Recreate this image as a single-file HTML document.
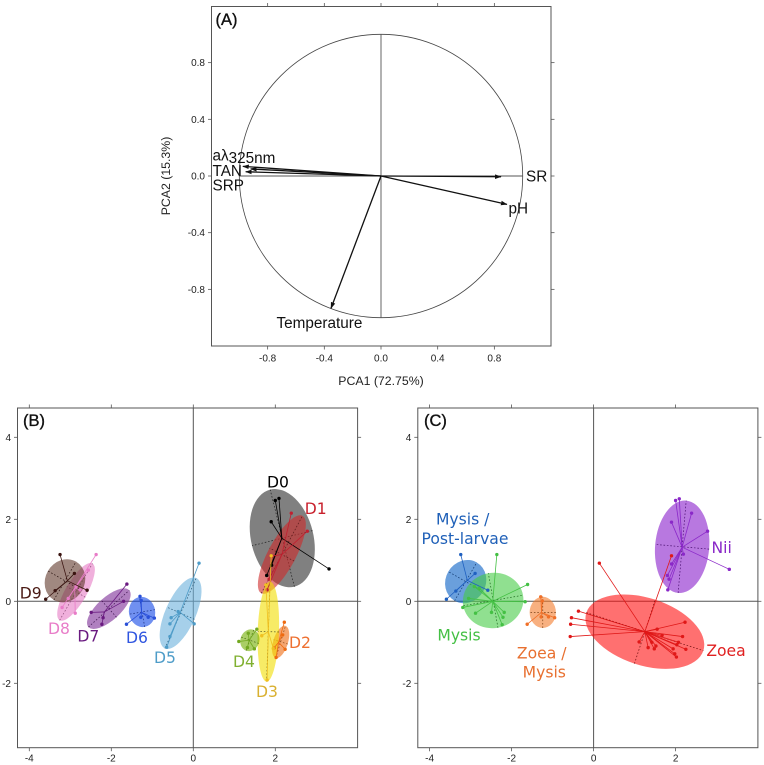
<!DOCTYPE html>
<html>
<head>
<meta charset="utf-8">
<title>PCA panels</title>
<style>
html,body{margin:0;padding:0;background:#fff;}
svg{display:block;filter:blur(0.3px);}
.sans{font-family:"Liberation Sans",sans-serif;}
.dv{font-family:"DejaVu Sans",sans-serif;font-size:15.6px;text-anchor:middle;}
.tick{font-family:"Liberation Sans",sans-serif;font-size:10px;fill:#222;}
.var{font-family:"Liberation Sans",sans-serif;font-size:15.3px;fill:#111;}
.ptitle{font-family:"Liberation Sans",sans-serif;font-size:16.5px;fill:#111;stroke:#111;stroke-width:.35;}
</style>
</head>
<body>
<svg id="chart" xmlns="http://www.w3.org/2000/svg" width="764" height="765" viewBox="0 0 764 765">
  <defs>
    <marker id="arrowhead" markerWidth="7" markerHeight="6" refX="6" refY="2.5" orient="auto" markerUnits="userSpaceOnUse">
      <path d="M0,0.2 L6.5,2.5 L0,4.8 Z" fill="#111"></path>
    </marker>
  </defs>
  <rect x="0" y="0" width="764" height="765" fill="#fff"></rect>
  <g id="panelA"></g>
  <g id="panelB"></g>
  <g id="panelC"></g>

  <text class="ptitle" x="215.5" y="25">(A)</text>
  <text class="ptitle" x="23" y="426">(B)</text>
  <text class="ptitle" x="424" y="426">(C)</text>

  <text class="sans" x="381" y="385" font-size="12.3" fill="#222" text-anchor="middle">PCA1 (72.75%)</text>
  <text class="sans" transform="translate(170,176) rotate(-90)" font-size="12.3" fill="#222" text-anchor="middle">PCA2 (15.3%)</text>

  <text class="var" x="212.5" y="160.5">aλ<tspan dy="2.5">325nm</tspan></text>
  <text class="var" x="212.5" y="176">TAN</text>
  <text class="var" x="212.5" y="190.7">SRP</text>
  <text class="var" x="526" y="181.7">SR</text>
  <text class="var" x="508.5" y="213.3">pH</text>
  <text class="var" x="276.5" y="328">Temperature</text>

  <text class="dv" x="278" y="487.5" fill="#000">D0</text>
  <text class="dv" x="315.7" y="514" fill="#c8202c">D1</text>
  <text class="dv" x="300" y="648" fill="#ee7030">D2</text>
  <text class="dv" x="267" y="697" fill="#d9b030">D3</text>
  <text class="dv" x="244" y="667" fill="#80b030">D4</text>
  <text class="dv" x="165" y="663" fill="#4e9cc8">D5</text>
  <text class="dv" x="137" y="643" fill="#2f55e0">D6</text>
  <text class="dv" x="88.3" y="641.5" fill="#6a1a80">D7</text>
  <text class="dv" x="59" y="634" fill="#e87cc8">D8</text>
  <text class="dv" x="30.7" y="598.5" fill="#4a1a14">D9</text>

  <text class="dv" x="462.7" y="524.5" fill="#1f60b8">Mysis /</text>
  <text class="dv" x="465" y="544" fill="#1f60b8">Post-larvae</text>
  <text class="dv" x="459" y="640.5" fill="#44c044">Mysis</text>
  <text class="dv" x="541.7" y="658.5" fill="#e87030">Zoea /</text>
  <text class="dv" x="544.3" y="677.5" fill="#e87030">Mysis</text>
  <text class="dv" x="726" y="656" fill="#e02020">Zoea</text>
  <text class="dv" x="721.7" y="553" fill="#8a28c8">Nii</text>
</svg>

<script>
// Panel A: correlation circle
const loadingNames = ['a325nm', 'TAN', 'SRP', 'SR', 'pH', 'Temperature'];
const loadingsPC1 = [-0.975, -0.92, -0.955, 0.847, 0.889, -0.353];
const loadingsPC2 = [0.068, 0.05, 0.03, -0.005, -0.2, -0.934];
const circleTicks = [-0.8, -0.4, 0, 0.4, 0.8];

// Panels B and C: shared tick values
const scoreXTicks = [-4, -2, 0, 2];
const scoreYTicks = [-2, 0, 2, 4];

// Panel B centroids
const d0Centroid = [2.16, 1.54];
const d1Centroid = [2.16, 1.14];
const d2Centroid = [2.08, -1.00];
const d3Centroid = [1.83, -0.74];
const d4Centroid = [1.36, -0.95];
const d5Centroid = [-0.32, -0.27];
const d6Centroid = [-1.26, -0.27];
const d7Centroid = [-2.17, -0.26];
const d8Centroid = [-2.89, 0.32];
const d9Centroid = [-3.07, 0.50];

// Panel B samples
const d0Scores = [[2.00,2.46],[2.09,2.51],[1.90,1.94],[3.31,0.79],[1.91,0.88],[1.79,0.63]];
const d1Scores = [[2.39,2.15],[2.78,1.71],[1.85,0.54],[1.80,0.28],[1.90,1.10]];
const d2Scores = [[2.22,-0.51],[2.24,-1.17],[2.02,-1.37],[2.18,-0.82],[1.97,-1.14]];
const d3Scores = [[1.90,1.11],[1.80,-1.92],[1.67,-0.84],[1.95,-1.15],[1.77,0.40]];
const d4Scores = [[1.55,-0.68],[1.11,-0.98],[1.32,-1.13],[1.49,-1.16],[1.34,-0.78]];
const d5Scores = [[0.14,0.93],[0.02,-0.55],[-0.57,-0.86],[-0.57,-0.55],[-0.54,-0.40],[-0.37,-0.25],[-0.65,-1.12]];
const d6Scores = [[-1.30,0.12],[-1.27,0.02],[-0.95,-0.41],[-1.10,-0.39],[-1.28,-0.39],[-1.63,-0.56]];
const d7Scores = [[-1.62,0.42],[-1.70,0],[-2.49,-0.27],[-2.23,-0.56],[-2.20,-0.40]];
const d8Scores = [[-2.37,1.14],[-2.88,-0.29],[-3.20,-0.15],[-3.05,0.07],[-2.86,0.36],[-2.76,0.28],[-2.56,0.76]];
const d9Scores = [[-3.25,1.14],[-2.90,0.68],[-2.59,0.27],[-3.37,0.26],[-3.60,0.05]];

// Panel B inertia ellipses: centre x, centre y, major, minor, angle
const d0Ellipse = [2.17, 1.54, 1.22, 0.76, 104];
const d1Ellipse = [2.16, 1.14, 1.07, 0.34, 62];
const d2Ellipse = [2.13, -0.99, 0.41, 0.18, 73];
const d3Ellipse = [1.83, -0.74, 1.22, 0.26, 88];
const d4Ellipse = [1.38, -0.95, 0.27, 0.23, 70];
const d5Ellipse = [-0.31, -0.29, 0.94, 0.37, 66];
const d6Ellipse = [-1.25, -0.26, 0.37, 0.32, 100];
const d7Ellipse = [-2.06, -0.18, 0.67, 0.28, 42];
const d8Ellipse = [-2.86, 0.23, 0.80, 0.26, 60];
const d9Ellipse = [-3.13, 0.50, 0.54, 0.48, 60];

// Panel C centroids
const mysisPlCentroid = [-3.08, 0.51];
const mysisCentroid = [-2.46, 0];
const zoeaMysisCentroid = [-1.27, -0.27];
const niiCentroid = [2.16, 1.32];
const zoeaCentroid = [1.25, -0.74];

// Panel C samples
const mysisPlScores = [[-3.24,1.14],[-2.89,0.68],[-2.58,0.27],[-3.36,0.25],[-3.59,0.05]];
const mysisScores = [[-2.36,1.14],[-1.61,0.41],[-1.67,-0.01],[-2.18,-0.27],[-2.21,-0.39],[-2.23,-0.57],[-2.49,-0.27],[-2.88,-0.29],[-3.19,-0.15],[-3.05,0.07],[-2.79,0.32],[-2.91,0.36]];
const zoeaMysisScores = [[-1.29,0.11],[-1.25,0.01],[-0.95,-0.40],[-1.10,-0.38],[-1.28,-0.38],[-1.62,-0.56]];
const niiScores = [[2.00,2.46],[2.09,2.50],[2.39,2.15],[1.90,1.93],[2.78,1.71],[3.31,0.78],[2.19,1.15],[1.90,0.91],[1.80,0.63],[1.84,0.54],[1.81,0.28]];
const zoeaScores = [[0.14,0.93],[1.90,1.11],[-0.37,-0.24],[-0.54,-0.40],[-0.56,-0.56],[-0.57,-0.86],[2.23,-0.51],[1.55,-0.68],[2.17,-0.86],[1.67,-0.83],[2.07,-1.00],[2.03,-1.06],[2.25,-1.17],[1.94,-1.16],[1.98,-1.28],[2.02,-1.36],[1.11,-0.99],[1.33,-1.13],[1.42,-1.00],[1.52,-1.09],[1.48,-1.16]];

// Panel C inertia ellipses
const mysisPlEllipse = [-3.12, 0.48, 0.54, 0.49, 60];
const mysisEllipse = [-2.45, 0.02, 0.74, 0.675, 10];
const zoeaMysisEllipse = [-1.24, -0.27, 0.38, 0.32, 90];
const niiEllipse = [2.16, 1.33, 1.13, 0.66, 85];
const zoeaEllipse = [1.25, -0.74, 1.50, 0.82, -18];

const SVGNS = 'http://www.w3.org/2000/svg';

function make(parent, tag, attrs) {
  const el = document.createElementNS(SVGNS, tag);
  for (const k in attrs) el.setAttribute(k, attrs[k]);
  parent.appendChild(el);
  return el;
}

function drawFrame(g, name, box, sx, sy, xTicks, yTicks, fmt, yLabelX, xLabelY) {
  const frame = make(g, 'rect', {x: box.l, y: box.t, width: box.r - box.l, height: box.b - box.t, fill: 'none', stroke: '#555', 'stroke-width': 1});
  
  
  xTicks.forEach(function (v) {
    const bottomTick = make(g, 'line', {x1: sx(v), x2: sx(v), y1: box.b, y2: box.b + 3.5, stroke: '#555', 'stroke-width': 0.8});
    
    
    const topTick = make(g, 'line', {x1: sx(v), x2: sx(v), y1: box.t, y2: box.t - 3.5, stroke: '#555', 'stroke-width': 0.8});
    
    
    const label = make(g, 'text', {x: sx(v), y: xLabelY, 'text-anchor': 'middle', class: 'tick'});
    label.textContent = fmt(v);
    
    
  });
  yTicks.forEach(function (v) {
    const leftTick = make(g, 'line', {x1: box.l, x2: box.l - 3.5, y1: sy(v), y2: sy(v), stroke: '#555', 'stroke-width': 0.8});
    
    
    const rightTick = make(g, 'line', {x1: box.r, x2: box.r + 3.5, y1: sy(v), y2: sy(v), stroke: '#555', 'stroke-width': 0.8});
    
    
    const label = make(g, 'text', {x: yLabelX, y: sy(v) + 3.5, 'text-anchor': 'end', class: 'tick'});
    label.textContent = fmt(v);
    
    
  });
}

// ---- Panel A ----
(function () {
  const g = document.getElementById('panelA');
  const box = {l: 211.5, r: 551, t: 6.5, b: 346};
  const unit = 141.7;
  const sx = function (v) { return 381 + v * unit; };
  const sy = function (v) { return 176 - v * unit; };
  drawFrame(g, 'panel-a', box, sx, sy, circleTicks, circleTicks.slice().reverse(), function (v) { return v.toFixed(1); }, 205, 361.5);
  const circle = make(g, 'circle', {cx: sx(0), cy: sy(0), r: unit, fill: 'none', stroke: '#444', 'stroke-width': 0.8});
  
  
  const hAxis = make(g, 'line', {x1: sx(-1), x2: sx(1), y1: sy(0), y2: sy(0), stroke: '#555', 'stroke-width': 0.9});
  
  
  const vAxis = make(g, 'line', {x1: sx(0), x2: sx(0), y1: sy(1), y2: sy(-1), stroke: '#555', 'stroke-width': 0.9});
  
  
  loadingNames.forEach(function (n, i) {
    const arrow = make(g, 'line', {x1: sx(0), y1: sy(0), x2: sx(loadingsPC1[i]), y2: sy(loadingsPC2[i]), stroke: '#111', 'stroke-width': 1.3, 'marker-end': 'url(#arrowhead)'});
    
    
  });
})();

// ---- Panels B & C ----
function drawGroups(g, panel, x0, groups) {
  const unit = 41, y0 = 601.3;
  const sx = function (v) { return x0 + v * unit; };
  const sy = function (v) { return y0 - v * unit; };
  const box = {l: x0 - 175.8, r: x0 + 164.3, t: 408, b: 747.7};
  drawFrame(g, panel, box, sx, sy, scoreXTicks, scoreYTicks, function (v) { return String(v); }, box.l - 6.5, 761.5);
  const hAxis = make(g, 'line', {x1: box.l, x2: box.r, y1: sy(0), y2: sy(0), stroke: '#555', 'stroke-width': 1});
  
  
  const vAxis = make(g, 'line', {x1: sx(0), x2: sx(0), y1: box.t, y2: box.b, stroke: '#555', 'stroke-width': 1});
  
  

  groups.forEach(function (gr) {
    const e = gr.ellipse;
    const cx = sx(e[0]), cy = sy(e[1]);
    const ell = make(g, 'ellipse', {cx: cx, cy: cy, rx: e[2] * unit, ry: e[3] * unit, fill: gr.fill, 'fill-opacity': 0.6, stroke: 'none', transform: 'rotate(' + (-e[4]) + ' ' + cx + ' ' + cy + ')'});
    
    
    const rad = e[4] * Math.PI / 180;
    const c = Math.cos(rad), s = Math.sin(rad);
    const major = make(g, 'line', {x1: cx - c * e[2] * unit, y1: cy + s * e[2] * unit, x2: cx + c * e[2] * unit, y2: cy - s * e[2] * unit, stroke: gr.dark, 'stroke-width': 0.7, 'stroke-dasharray': '1.6 1.8'});
    
    
    const minor = make(g, 'line', {x1: cx + s * e[3] * unit, y1: cy + c * e[3] * unit, x2: cx - s * e[3] * unit, y2: cy - c * e[3] * unit, stroke: gr.dark, 'stroke-width': 0.7, 'stroke-dasharray': '1.6 1.8'});
    
    
  });
  groups.forEach(function (gr) {
    const ctr = gr.centroid;
    gr.scores.forEach(function (p) {
      const star = make(g, 'line', {x1: sx(ctr[0]), y1: sy(ctr[1]), x2: sx(p[0]), y2: sy(p[1]), stroke: gr.line, 'stroke-width': 0.8});
      
      
      const dot = make(g, 'circle', {cx: sx(p[0]), cy: sy(p[1]), r: 1.7, fill: gr.line});
      
      
    });
  });
}

const groupsB = [
  {name: 'd0', centroid: d0Centroid, scores: d0Scores, ellipse: d0Ellipse, fill: '#2b2b2b', line: '#000000', dark: '#222222'},
  {name: 'd1', centroid: d1Centroid, scores: d1Scores, ellipse: d1Ellipse, fill: '#cf2a2a', line: '#c02030', dark: '#5a1a1a'},
  {name: 'd2', centroid: d2Centroid, scores: d2Scores, ellipse: d2Ellipse, fill: '#ee6a10', line: '#ee6a10', dark: '#8a4510'},
  {name: 'd3', centroid: d3Centroid, scores: d3Scores, ellipse: d3Ellipse, fill: '#f2de00', line: '#f0c020', dark: '#555522'},
  {name: 'd4', centroid: d4Centroid, scores: d4Scores, ellipse: d4Ellipse, fill: '#72ad00', line: '#72a820', dark: '#4a6a15'},
  {name: 'd5', centroid: d5Centroid, scores: d5Scores, ellipse: d5Ellipse, fill: '#6ab0dc', line: '#4e9cc8', dark: '#2a5a78'},
  {name: 'd6', centroid: d6Centroid, scores: d6Scores, ellipse: d6Ellipse, fill: '#1146e6', line: '#2a50d8', dark: '#1a2f80'},
  {name: 'd7', centroid: d7Centroid, scores: d7Scores, ellipse: d7Ellipse, fill: '#7b2b96', line: '#6a1a80', dark: '#3f1450'},
  {name: 'd8', centroid: d8Centroid, scores: d8Scores, ellipse: d8Ellipse, fill: '#e67bc5', line: '#e87cc8', dark: '#8a4a78'},
  {name: 'd9', centroid: d9Centroid, scores: d9Scores, ellipse: d9Ellipse, fill: '#61392b', line: '#3a1410', dark: '#2a1410'}
];

const groupsC = [
  {name: 'zoea', centroid: zoeaCentroid, scores: zoeaScores, ellipse: zoeaEllipse, fill: '#ff1111', line: '#e01818', dark: '#701010'},
  {name: 'nii', centroid: niiCentroid, scores: niiScores, ellipse: niiEllipse, fill: '#891ecb', line: '#8a28c8', dark: '#4a1070'},
  {name: 'mysis-post-larvae', centroid: mysisPlCentroid, scores: mysisPlScores, ellipse: mysisPlEllipse, fill: '#075fc5', line: '#1f60c0', dark: '#123a70'},
  {name: 'mysis', centroid: mysisCentroid, scores: mysisScores, ellipse: mysisEllipse, fill: '#46cb46', line: '#44c044', dark: '#206a20'},
  {name: 'zoea-mysis', centroid: zoeaMysisCentroid, scores: zoeaMysisScores, ellipse: zoeaMysisEllipse, fill: '#f37b2b', line: '#f07028', dark: '#7a4015'}
];

drawGroups(document.getElementById('panelB'), 'panel-b', 193.3, groupsB);
drawGroups(document.getElementById('panelC'), 'panel-c', 593.6, groupsC);
</script>
</body>
</html>
